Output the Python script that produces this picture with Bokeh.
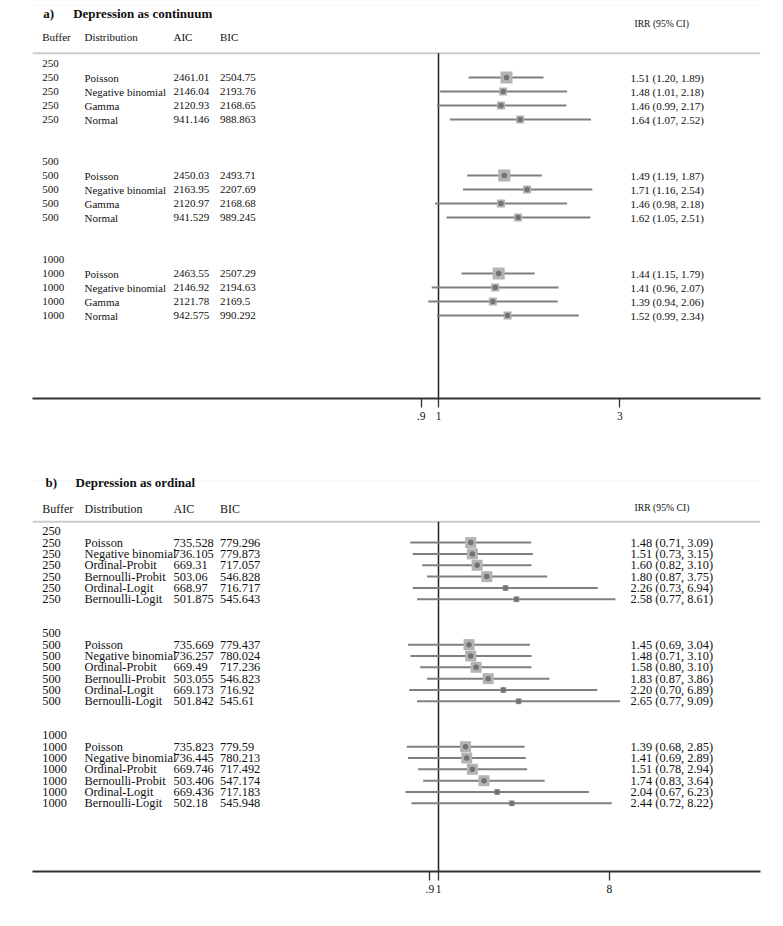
import math
from bokeh.plotting import figure
from bokeh.models import (Range1d, LogScale, LogAxis, FixedTicker, ColumnDataSource, Label,
                          BoxAnnotation)
from bokeh.layouts import column
from bokeh.embed import file_html
from bokeh.resources import INLINE
from bokeh.core.properties import value

FONT = "Liberation Serif"

# ---------------- data ----------------
buffers = [250, 500, 1000]
headers = ["Buffer", "Distribution", "AIC", "BIC"]
irr_header = "IRR (95% CI)"

# Panel a: depression as continuum
title_a = "Depression as continuum"
dist_a = ["Poisson", "Negative binomial", "Gamma", "Normal"]
aic_a = [[2461.01, 2146.04, 2120.93, 941.146],
         [2450.03, 2163.95, 2120.97, 941.529],
         [2463.55, 2146.92, 2121.78, 942.575]]
bic_a = [[2504.75, 2193.76, 2168.65, 988.863],
         [2493.71, 2207.69, 2168.68, 989.245],
         [2507.29, 2194.63, 2169.5, 990.292]]
irr_a = [[1.51, 1.48, 1.46, 1.64],
         [1.49, 1.71, 1.46, 1.62],
         [1.44, 1.41, 1.39, 1.52]]
lo_a = [[1.20, 1.01, 0.99, 1.07],
        [1.19, 1.16, 0.98, 1.05],
        [1.15, 0.96, 0.94, 0.99]]
hi_a = [[1.89, 2.18, 2.17, 2.52],
        [1.87, 2.54, 2.18, 2.51],
        [1.79, 2.07, 2.06, 2.34]]
ticks_a = [0.9, 1, 3]
tick_labels_a = [".9", "1", "3"]

# Panel b: depression as ordinal
title_b = "Depression as ordinal"
dist_b = ["Poisson", "Negative binomial", "Ordinal-Probit", "Bernoulli-Probit",
          "Ordinal-Logit", "Bernoulli-Logit"]
aic_b = [[735.528, 736.105, 669.31, 503.06, 668.97, 501.875],
         [735.669, 736.257, 669.49, 503.055, 669.173, 501.842],
         [735.823, 736.445, 669.746, 503.406, 669.436, 502.18]]
bic_b = [[779.296, 779.873, 717.057, 546.828, 716.717, 545.643],
         [779.437, 780.024, 717.236, 546.823, 716.92, 545.61],
         [779.59, 780.213, 717.492, 547.174, 717.183, 545.948]]
irr_b = [[1.48, 1.51, 1.60, 1.80, 2.26, 2.58],
         [1.45, 1.48, 1.58, 1.83, 2.20, 2.65],
         [1.39, 1.41, 1.51, 1.74, 2.04, 2.44]]
lo_b = [[0.71, 0.73, 0.82, 0.87, 0.73, 0.77],
        [0.69, 0.71, 0.80, 0.87, 0.70, 0.77],
        [0.68, 0.69, 0.78, 0.83, 0.67, 0.72]]
hi_b = [[3.09, 3.15, 3.10, 3.75, 6.94, 8.61],
        [3.04, 3.10, 3.10, 3.86, 6.89, 9.09],
        [2.85, 2.89, 2.94, 3.64, 6.23, 8.22]]
ticks_b = [0.9, 1, 8]
tick_labels_b = [".9", "1", "8"]

# ---------------- layout / style ----------------
PAGE_W = 783
OFF = 0                         # page offset of the figures
FRAME_L, FRAME_R = 32, 760      # page px of frame edges
NULL_X = 438                    # page px of IRR = 1
COL_X = [41.7, 84, 173, 219.5]  # Buffer, Distribution, AIC, BIC
IRR_TXT_X = 630
IRR_HEAD_X = 634
TXT = "#111111"

style_a = dict(label="a)", title=title_a, fig_top=0, height=463, axis_y=398,
               row0=63, d=14, k=165.0, title_y=12.7, head_y=36, irr_head_y=23.3,
               sep_y=52.7, label_x=42.7, title_x=72.7, f_row="11px", f_head="11px",
               f_title="13px", f_irrhead="9.6px", box=[12, 8, 8, 8],
               frame_box=(10, 777, 5, 446))
style_b = dict(label="b)", title=title_b, fig_top=463, height=463, axis_y=870.7,
               row0=530.7, d=11.33, k=82.2, title_y=482.3, head_y=508.3, irr_head_y=506.7,
               sep_y=521.3, label_x=45, title_x=75, f_row="12.4px", f_head="12px",
               f_title="13px", f_irrhead="9.7px", box=[11, 11, 11, 11, 6, 6],
               frame_box=(10, 777, 480, 918))


def make_panel(st, dist, aic, bic, irr, lo, hi, ticks, tick_labels):
    n = len(dist)
    stride = n + 3
    row = lambda py: (py - st["row0"]) / st["d"]

    hdr_rows, hdr_txt = [], []
    rows, bufs, dists, aics, bics, irrs, los, his, irrtxt, bsize = ([] for _ in range(10))
    for g, b in enumerate(buffers):
        r0 = g * stride
        hdr_rows.append(r0)
        hdr_txt.append(str(b))
        for j in range(n):
            rows.append(r0 + 1 + j)
            bufs.append(str(b))
            dists.append(dist[j])
            aics.append(str(aic[g][j]))
            bics.append(str(bic[g][j]))
            irrs.append(irr[g][j])
            los.append(lo[g][j])
            his.append(hi[g][j])
            irrtxt.append(f"{irr[g][j]:.2f} ({lo[g][j]:.2f}, {hi[g][j]:.2f})")
            bsize.append(st["box"][j])
    src = ColumnDataSource(dict(row=rows, buf=bufs, dist=dists, aic=aics, bic=bics,
                                irr=irrs, lo=los, hi=his, irrtxt=irrtxt, bsize=bsize))
    hsrc = ColumnDataSource(dict(row=hdr_rows, buf=hdr_txt))

    frame_h = st["axis_y"] - st["fig_top"]
    y_bottom = row(st["axis_y"])
    y_top = row(st["fig_top"])
    k = st["k"]
    p = figure(width=PAGE_W, height=st["height"],
               x_range=Range1d(FRAME_L, FRAME_R),
               y_range=Range1d(start=y_bottom, end=y_top),
               output_backend="svg", toolbar_location=None,
               x_axis_location=None, y_axis_location=None,
               min_border_left=FRAME_L - OFF, min_border_right=OFF + PAGE_W - FRAME_R,
               min_border_top=0, min_border_bottom=int(round(st["height"] - frame_h)))
    p.extra_x_ranges = {"irr": Range1d(math.exp((FRAME_L - NULL_X) / k),
                                       math.exp((FRAME_R - NULL_X) / k))}
    p.extra_x_scales = {"irr": LogScale()}
    p.outline_line_color = None
    p.grid.visible = False
    p.background_fill_color = "white"
    p.border_fill_color = "white"

    # faint panel frame
    l, r, t, b = st["frame_box"]
    p.add_layout(BoxAnnotation(left=l, right=r, top=t - st["fig_top"], bottom=b - st["fig_top"],
                               left_units="canvas", right_units="canvas",
                               top_units="canvas", bottom_units="canvas",
                               fill_alpha=0, line_color="#e3eaec", line_width=1.2,
                               level="underlay"))

    # titles
    p.add_layout(Label(x=st["label_x"], y=row(st["title_y"]), text=st["label"],
                       text_font=FONT, text_font_size=st["f_title"], text_font_style="bold",
                       text_baseline="middle", text_color=TXT))
    p.add_layout(Label(x=st["title_x"], y=row(st["title_y"]), text=st["title"],
                       text_font=FONT, text_font_size=st["f_title"], text_font_style="bold",
                       text_baseline="middle", text_color=TXT))
    # column headers
    for cx, h in zip(COL_X, headers):
        p.text(x=[cx], y=[row(st["head_y"])], text=[h], text_font=value(FONT),
               text_font_size=st["f_head"], text_baseline="middle", text_color=TXT)
    p.text(x=[IRR_HEAD_X], y=[row(st["irr_head_y"])], text=[irr_header],
           text_font=value(FONT), text_font_size=st["f_irrhead"],
           text_baseline="middle", text_color=TXT)

    # separator line
    sep = row(st["sep_y"])
    p.segment(x0=[FRAME_L], x1=[FRAME_R], y0=[sep], y1=[sep],
              line_color="#cccccc", line_width=2)
    # null line
    p.segment(x0=[1], x1=[1], y0=[sep], y1=[y_bottom], x_range_name="irr",
              line_color="#222222", line_width=1.5)

    # table text
    kw = dict(text_font=value(FONT), text_font_size=st["f_row"],
              text_baseline="middle", text_color=TXT)
    p.text(x=COL_X[0], y="row", text="buf", source=hsrc, **kw)
    p.text(x=COL_X[0], y="row", text="buf", source=src, **kw)
    p.text(x=COL_X[1], y="row", text="dist", source=src, **kw)
    p.text(x=COL_X[2], y="row", text="aic", source=src, **kw)
    p.text(x=COL_X[3], y="row", text="bic", source=src, **kw)
    p.text(x=IRR_TXT_X, y="row", text="irrtxt", source=src, **kw)

    # forest marks
    p.segment(x0="lo", x1="hi", y0="row", y1="row", source=src, x_range_name="irr",
              line_color="#7f7f7f", line_width=2)
    p.scatter(x="irr", y="row", size="bsize", marker="square", source=src,
              x_range_name="irr", fill_color="#b3b3b3", line_color=None)
    p.scatter(x="irr", y="row", size=5.5, marker="circle", source=src,
              x_range_name="irr", fill_color="#737373", line_color=None)

    ax = LogAxis(x_range_name="irr", ticker=FixedTicker(ticks=ticks),
                 major_label_overrides={t: l for t, l in zip(ticks, tick_labels)})
    ax.axis_line_color = "#333333"
    ax.axis_line_width = 2
    ax.major_tick_line_color = "#333333"
    ax.major_tick_line_width = 1.3
    ax.major_tick_out = 9
    ax.major_tick_in = 0
    ax.minor_tick_line_color = None
    ax.major_label_standoff = 4
    ax.major_label_text_font = FONT
    ax.major_label_text_font_size = "11.5px"
    ax.major_label_text_color = TXT
    p.add_layout(ax, "below")
    return p


pa = make_panel(style_a, dist_a, aic_a, bic_a, irr_a, lo_a, hi_a, ticks_a, tick_labels_a)
pb = make_panel(style_b, dist_b, aic_b, bic_b, irr_b, lo_b, hi_b, ticks_b, tick_labels_b)

layout = column(pa, pb, spacing=0)
open("out.html", "w").write(file_html(layout, INLINE))
